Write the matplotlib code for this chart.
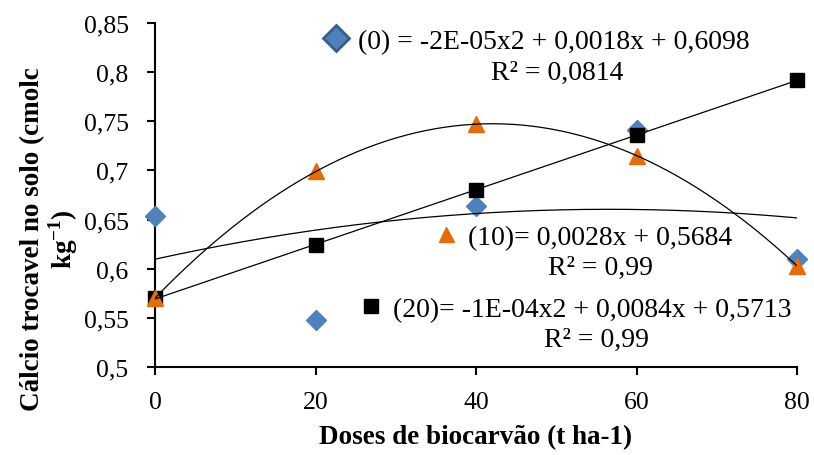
import numpy as np
import matplotlib
matplotlib.use('Agg')
import matplotlib.pyplot as plt

plt.rcParams['font.family'] = 'Liberation Serif'
plt.rcParams['mathtext.fontset'] = 'custom'
plt.rcParams['mathtext.rm'] = 'Liberation Serif'
plt.rcParams['mathtext.bf'] = 'Liberation Serif:bold'

doses = [0, 20, 40, 60, 80]
ca_0 = [0.654, 0.548, 0.664, 0.741, 0.610]
ca_10 = [0.570, 0.699, 0.747, 0.715, 0.603]
ca_20 = [0.570, 0.624, 0.680, 0.736, 0.792]

eq_0 = "(0) = -2E-05x2 + 0,0018x + 0,6098"
eq_10 = "(10)= 0,0028x + 0,5684"
eq_20 = "(20)= -1E-04x2 + 0,0084x + 0,5713"
r2_0 = "R² = 0,0814"
r2_10 = "R² = 0,99"
r2_20 = "R² = 0,99"

blue = '#4F81BD'
orange = '#E46C0A'
fs_tick = 18.5
fs_txt = 20
fs_lab = 19.5

W, H = 814, 456
fig = plt.figure(figsize=(W/100, H/100), dpi=100)
ax = fig.add_axes([155/W, 1-368/H, 642/W, 344/H])

x = np.array(doses)
xs = np.linspace(0, 80, 200)

p_blue, = ax.plot(x, ca_0, 'D', color=blue, mec=blue, ms=10, ls='none', zorder=3, clip_on=False)
p_black, = ax.plot(x, ca_20, 's', color='black', ms=9.5, ls='none', zorder=4, clip_on=False)
p_orange, = ax.plot(x, ca_10, '^', color=orange, mec=orange, ms=12, ls='none', zorder=5, clip_on=False)

# trendlines
c0 = np.polyfit(x, ca_0, 2)
c10 = np.polyfit(x, ca_10, 2)
c20 = np.polyfit(x, ca_20, 1)
for c in (c0, c10, c20):
    ax.plot(xs, np.polyval(c, xs), color='black', lw=0.9, zorder=6)

ax.set_xlim(0, 80)
ax.set_ylim(0.5, 0.85)
ax.set_xticks([0, 20, 40, 60, 80])
ax.set_yticks([0.5, 0.55, 0.6, 0.65, 0.7, 0.75, 0.8, 0.85])
ax.set_yticklabels(['0,5', '0,55', '0,6', '0,65', '0,7', '0,75', '0,8', '0,85'])
ax.spines['top'].set_visible(False)
ax.spines['right'].set_visible(False)
ax.spines['left'].set_linewidth(1.5)
ax.spines['bottom'].set_linewidth(1.5)
ax.tick_params(axis='both', labelsize=fs_tick, width=1.5, length=6, direction='out')
ax.tick_params(axis='y', pad=13)
ax.tick_params(axis='x', pad=11)

ax.set_xlabel('Doses de biocarvão (t ha-1)', fontsize=fs_lab, fontweight='bold', labelpad=8)
fig.text(50/W, 1-239/H, 'Cálcio trocavel no solo (cmolc\nkg$^{\\mathbf{-1}}$)', rotation=90,
         ha='center', va='center', multialignment='center', fontsize=fs_lab, fontweight='bold',
         linespacing=1.05)

def add_label(handle, text, x0, yc, scale=1.0):
    leg = fig.legend([handle], [text], loc='center left', bbox_to_anchor=(x0/W, 1-yc/H),
                     frameon=False, fontsize=fs_txt, handlelength=1.0, handletextpad=0.3,
                     borderpad=0, borderaxespad=0, markerscale=scale)
    return leg

diamond_big, = ax.plot([], [], 'D', color=blue, mec='#385D8A', mew=2, ms=10)
add_label(diamond_big, eq_0, 322, 42, scale=1.35)
add_label(p_orange, eq_10, 432, 238, scale=0.9)
add_label(p_black, eq_20, 357, 310, scale=1.05)

fig.text(557/W, 1-73/H, r2_0, ha='center', va='center', fontsize=fs_txt)
fig.text(600/W, 1-268/H, r2_10, ha='center', va='center', fontsize=fs_txt)
fig.text(597/W, 1-340/H, r2_20, ha='center', va='center', fontsize=fs_txt)

fig.savefig('out.png', dpi=100)
